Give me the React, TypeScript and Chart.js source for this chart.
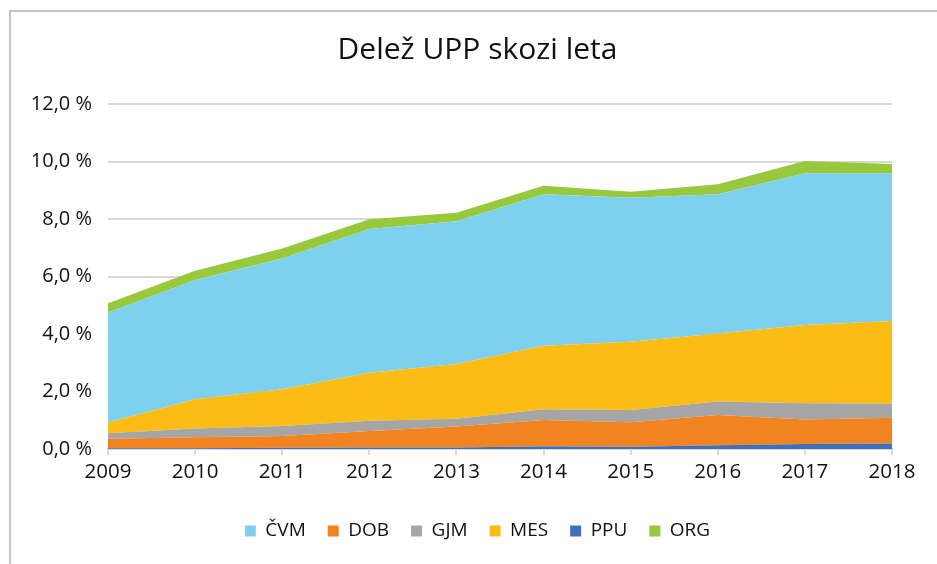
import React, { useEffect, useRef } from "react";
import { Chart, registerables } from "chart.js";

Chart.register(...registerables);

const years = ["2009", "2010", "2011", "2012", "2013", "2014", "2015", "2016", "2017", "2018"];
const PPU = [0.03, 0.03, 0.04, 0.05, 0.05, 0.1, 0.08, 0.13, 0.17, 0.19];
const DOB = [0.33, 0.38, 0.41, 0.58, 0.73, 0.91, 0.85, 1.05, 0.86, 0.9];
const GJM = [0.19, 0.3, 0.35, 0.35, 0.27, 0.37, 0.43, 0.47, 0.56, 0.48];
const MES = [0.37, 1.02, 1.28, 1.67, 1.91, 2.21, 2.37, 2.37, 2.72, 2.88];
const CVM = [3.83, 4.15, 4.55, 5.0, 4.96, 5.27, 5.01, 4.84, 5.28, 5.14];
const ORG = [0.32, 0.32, 0.34, 0.34, 0.3, 0.3, 0.21, 0.35, 0.43, 0.32];

const legendOrder = ["ČVM", "DOB", "GJM", "MES", "PPU", "ORG"];
const FONT = "'Open Sans', sans-serif";

export default function App() {
  const ref = useRef<HTMLCanvasElement>(null);
  useEffect(() => {
    if (!ref.current) return;
    const mk = (label: string, data: number[], color: string, fill: string | boolean) => ({
      label,
      data,
      backgroundColor: color,
      borderColor: color,
      borderWidth: 0,
      pointRadius: 0,
      fill,
      tension: 0,
    });
    const chart = new Chart(ref.current, {
      type: "line",
      data: {
        labels: years,
        datasets: [
          mk("PPU", PPU, "#4270b8", "origin"),
          mk("DOB", DOB, "#f18421", "-1"),
          mk("GJM", GJM, "#a5a5a5", "-1"),
          mk("MES", MES, "#fbbd14", "-1"),
          mk("ČVM", CVM, "#7ed0ef", "-1"),
          mk("ORG", ORG, "#98c83c", "-1"),
        ],
      },
      options: {
        responsive: false,
        animation: false,
        layout: { padding: { left: 18, right: 0, top: 0, bottom: 13.5 } },
        plugins: {
          title: {
            display: true,
            text: "Delež UPP skozi leta",
            color: "#111",
            font: { family: FONT, size: 30, weight: "normal", lineHeight: 1.2 },
            padding: { top: 32, bottom: 36 },
          },
          legend: {
            position: "bottom",
            labels: {
              boxWidth: 11,
              boxHeight: 11,
              padding: 22,
              color: "#111",
              font: { family: FONT, size: 19 },
              sort: (a: any, b: any) => legendOrder.indexOf(a.text) - legendOrder.indexOf(b.text),
            },
          },
          tooltip: { enabled: false },
        },
        scales: {
          x: {
            stacked: true,
            offset: false,
            grid: { display: true, drawOnChartArea: false, drawTicks: true, tickLength: 6, color: "#d9d9d9", lineWidth: 2 },
            border: { display: true, color: "#d9d9d9", width: 2 },
            ticks: { color: "#111", font: { family: FONT, size: 20.5 }, padding: 5, maxRotation: 0 },
            afterFit: (s: any) => { s.height = 50.5; },
          },
          y: {
            stacked: true,
            min: 0,
            max: 12,
            grid: { color: "#d9d9d9", lineWidth: 2, drawTicks: false },
            border: { display: false },
            ticks: {
              stepSize: 2,
              color: "#111",
              font: { family: FONT, size: 20 },
              padding: 16,
              callback: (v: any) => Number(v).toFixed(1).replace(".", ",") + " %",
            },
            afterFit: (s: any) => { s.width = 90; },
          },
          y2: {
            position: "right",
            min: 0,
            max: 12,
            grid: { display: false, drawTicks: false },
            border: { display: false },
            ticks: { display: false },
            afterFit: (s: any) => { s.width = 45; },
          },
        },
      },
    });
    return () => chart.destroy();
  }, []);
  return (
    <div style={{ position: "absolute", left: 0, top: 0, width: 937, height: 564, background: "#fff", overflow: "hidden" }}>
      <div style={{ position: "absolute", left: 9, top: 10, width: 1000, height: 1000, borderLeft: "2px solid #c4c4c4", borderTop: "2px solid #c4c4c4", boxSizing: "border-box" }} />
      <canvas ref={ref} width={937} height={564} style={{ position: "absolute", left: 0, top: 0 }} />
    </div>
  );
}
